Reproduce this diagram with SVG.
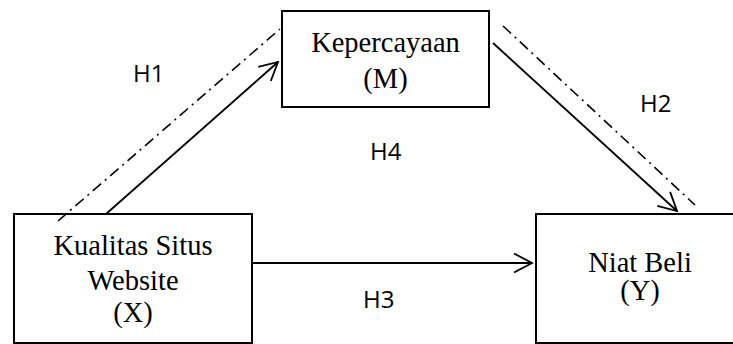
<svg xmlns="http://www.w3.org/2000/svg" width="733" height="344" viewBox="0 0 733 344">
  <style>
    .box { fill: #ffffff; stroke: #000000; stroke-width: 2; }
    .lbl { font-family: "Liberation Serif", "Times New Roman", serif; font-size: 28.5px; fill: #000000; text-anchor: middle; }
    .h { font-family: "Open Sans", "Liberation Sans", Arial, sans-serif; font-size: 24px; fill: #000000; }
    .arrow { stroke: #000000; stroke-width: 1.8; fill: none; marker-end: url(#head); }
    .dashdot { stroke: #000000; stroke-width: 1.6; fill: none; stroke-dasharray: 11 5 2 5; }
  </style>
  <defs>
    <marker id="head" markerUnits="userSpaceOnUse" markerWidth="24" markerHeight="24" viewBox="-20 -12 24 24" refX="0" refY="0" orient="auto" overflow="visible">
      <path d="M-18,-9.5 L0,0 L-18,9.5" fill="none" stroke="#000000" stroke-width="1.8"/>
    </marker>
  </defs>
  <rect width="733" height="344" fill="#ffffff"/>

  <g id="node-M">
    <rect class="box" x="282" y="11" width="207" height="96"/>
    <text class="lbl" x="385.5" y="52">Kepercayaan</text>
    <text class="lbl" x="385.5" y="88">(M)</text>
  </g>

  <g id="node-X">
    <rect class="box" x="14" y="214" width="238" height="129"/>
    <text class="lbl" x="133" y="255">Kualitas Situs</text>
    <text class="lbl" x="133" y="290">Website</text>
    <text class="lbl" x="133" y="322">(X)</text>
  </g>

  <g id="node-Y">
    <rect class="box" x="536" y="214" width="210" height="129"/>
    <text class="lbl" x="640" y="272">Niat Beli</text>
    <text class="lbl" x="640" y="300">(Y)</text>
  </g>

  <g id="connectors">
    <line class="dashdot" x1="58" y1="221" x2="280" y2="29"/>
    <line class="arrow" x1="106" y1="214" x2="278" y2="62"/>
    <line class="dashdot" x1="503" y1="26" x2="695" y2="205"/>
    <line class="arrow" x1="493" y1="43" x2="677" y2="211"/>
    <line class="arrow" x1="252" y1="263" x2="532" y2="263"/>
  </g>

  <g id="labels">
    <text class="h" x="133" y="82">H1</text>
    <text class="h" x="640" y="112">H2</text>
    <text class="h" x="363" y="308">H3</text>
    <text class="h" x="370" y="160">H4</text>
  </g>
</svg>
